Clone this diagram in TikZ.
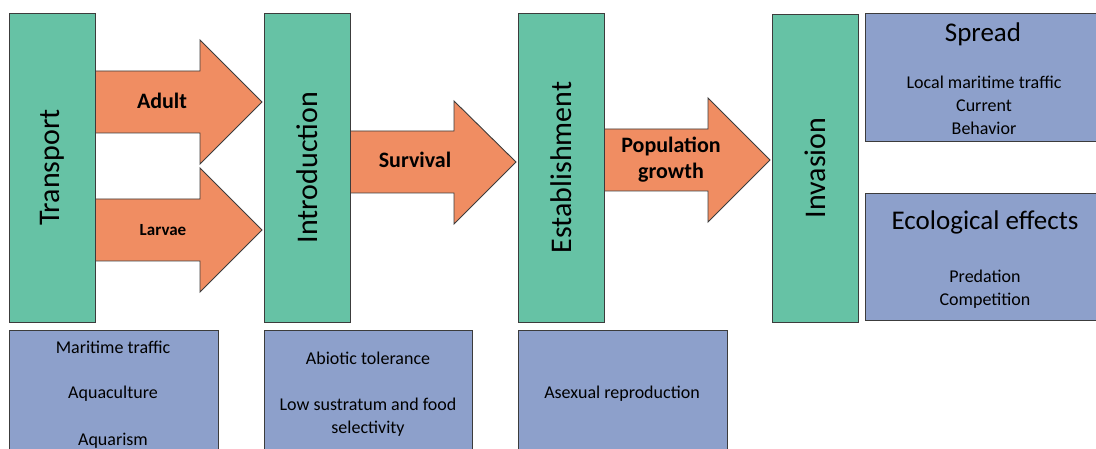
\documentclass[tikz,border=0pt]{standalone}
\usepackage{fontspec}
\setmainfont{Carlito}
\definecolor{sgreen}{HTML}{66C2A5}
\definecolor{sorange}{HTML}{F08D62}
\definecolor{sblue}{HTML}{8DA0CB}
\definecolor{edgec}{HTML}{3C3C3C}
\tikzset{
  stage/.style={draw=edgec, fill=sgreen, line width=0.9pt, inner sep=0pt, font=\fontsize{30}{36}\selectfont},
  infobox/.style={draw=edgec, fill=sblue, line width=0.9pt, inner sep=0pt, anchor=north west},
  infotext/.style={inner sep=0pt, anchor=base, align=center, font=\fontsize{18}{23}\selectfont},
  infotitle/.style={inner sep=0pt, anchor=base, align=center, font=\fontsize{27}{32}\selectfont},
  flow/.style={draw=edgec, fill=sorange, line width=0.9pt, line join=miter},
  flowlabel/.style={inner sep=0pt, align=center, font=\bfseries\fontsize{22}{26}\selectfont}
}
\begin{document}
\begin{tikzpicture}[x=1pt,y=-1pt]
\useasboundingbox (0,0) rectangle (1096,449);
\clip (0,0) rectangle (1096,449);
% arrows
\draw[flow] (95,71) -- (200,71) -- (200,40) -- (262,102) -- (200,164) -- (200,133) -- (95,133) -- cycle;
\draw[flow] (95,199) -- (200,199) -- (200,168) -- (262,230) -- (200,292) -- (200,261) -- (95,261) -- cycle;
\draw[flow] (350,131) -- (454,131) -- (454,101) -- (516,162) -- (454,224) -- (454,193) -- (350,193) -- cycle;
\draw[flow] (604,129) -- (708,129) -- (708,98) -- (770,160) -- (708,222) -- (708,191) -- (604,191) -- cycle;
\node[flowlabel] (adult) at (162,101) {Adult};
\node[flowlabel, font=\bfseries\fontsize{17}{20}\selectfont] (larvae) at (163,230) {Larvae};
\node[flowlabel] (survival) at (415,160) {Survival};
\node[flowlabel] (popgrowth) at (671,160) {Population\\growth};
% stages
\node[stage, minimum width=86pt, minimum height=309pt] (transport) at (52,167.5) {\rotatebox{90}{Transport}};
\node[stage, minimum width=86pt, minimum height=309pt] (introduction) at (307,167.5) {\rotatebox{90}{Introduction}};
\node[stage, minimum width=86pt, minimum height=309pt] (establishment) at (561,167.5) {\rotatebox{90}{Establishment}};
\node[stage, minimum width=86pt, minimum height=308pt] (invasion) at (815.5,168) {\rotatebox{90}{Invasion}};
% right info boxes
\node[infobox, minimum width=240pt, minimum height=128pt] (spreadbox) at (865,13) {};
\node[infotitle] (spread) at (983,42) {Spread};
\node[infotext] (local) at (984,89) {Local maritime traffic};
\node[infotext] (current) at (984,112) {Current};
\node[infotext] (behavior) at (984,135) {Behavior};
\node[infobox, minimum width=240pt, minimum height=127pt] (ecobox) at (865,193) {};
\node[infotitle] (eco) at (985,230) {Ecological effects};
\node[infotext] (predation) at (985,283) {Predation};
\node[infotext] (competition) at (985,306) {Competition};
% bottom info boxes
\node[infobox, minimum width=209pt, minimum height=130pt] (tbox) at (9,330) {};
\node[infotext] (maritime) at (113,353) {Maritime traffic};
\node[infotext] (aquaculture) at (113,399) {Aquaculture};
\node[infotext] (aquarism) at (113,445) {Aquarism};
\node[infobox, minimum width=208pt, minimum height=130pt] (ibox) at (264,330) {};
\node[infotext] (abiotic) at (368,364) {Abiotic tolerance};
\node[infotext] (lowsub) at (368,410) {Low sustratum and food};
\node[infotext] (selectivity) at (368,433) {selectivity};
\node[infobox, minimum width=209pt, minimum height=130pt] (ebox) at (518,330) {};
\node[infotext] (asexual) at (622,398) {Asexual reproduction};
\end{tikzpicture}
\end{document}
